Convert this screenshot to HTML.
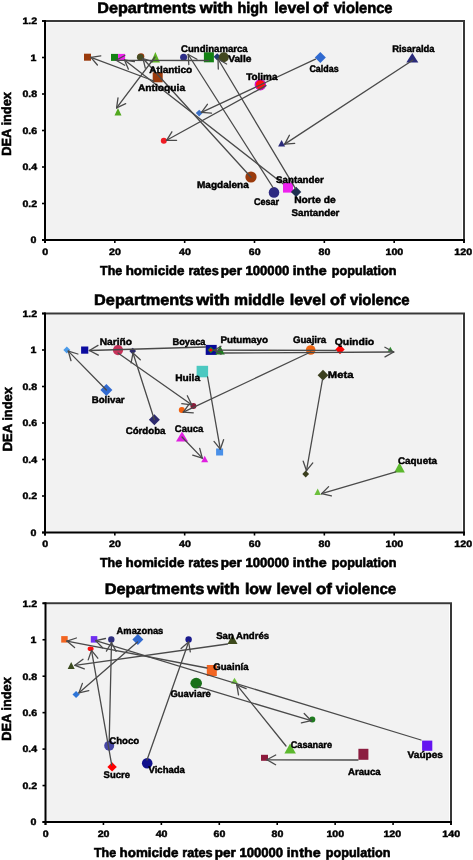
<!DOCTYPE html><html><head><meta charset="utf-8"><style>html,body{margin:0;padding:0;background:#fff;}svg{display:block;} text{filter:grayscale(1);}</style></head><body>
<svg width="473" height="860" viewBox="0 0 473 860" text-rendering="geometricPrecision" font-family='"Liberation Sans", sans-serif'>
<rect x="45" y="22.5" width="417" height="217.5" fill="#f2f2f2"/>
<line x1="42" y1="21" x2="465" y2="21" stroke="#383838" stroke-width="2"/>
<line x1="464" y1="21" x2="464" y2="243" stroke="#383838" stroke-width="2"/>
<line x1="42" y1="240" x2="465" y2="240" stroke="#000000" stroke-width="2"/>
<line x1="45" y1="20" x2="45" y2="243" stroke="#000000" stroke-width="2"/>
<line x1="42" y1="240.00" x2="45" y2="240.00" stroke="#000000" stroke-width="1.6"/>
<text x="36.3" y="243.3" font-size="9.3" font-weight="bold" text-anchor="end" fill="#000" stroke="#000" stroke-width="0.45" textLength="5.9" lengthAdjust="spacingAndGlyphs">0</text>
<line x1="42" y1="203.50" x2="45" y2="203.50" stroke="#000000" stroke-width="1.6"/>
<text x="37.2" y="206.8" font-size="9.3" font-weight="bold" text-anchor="end" fill="#000" stroke="#000" stroke-width="0.45" textLength="14.7" lengthAdjust="spacingAndGlyphs">0.2</text>
<line x1="42" y1="167.00" x2="45" y2="167.00" stroke="#000000" stroke-width="1.6"/>
<text x="37.2" y="170.3" font-size="9.3" font-weight="bold" text-anchor="end" fill="#000" stroke="#000" stroke-width="0.45" textLength="14.7" lengthAdjust="spacingAndGlyphs">0.4</text>
<line x1="42" y1="130.50" x2="45" y2="130.50" stroke="#000000" stroke-width="1.6"/>
<text x="37.2" y="133.8" font-size="9.3" font-weight="bold" text-anchor="end" fill="#000" stroke="#000" stroke-width="0.45" textLength="14.7" lengthAdjust="spacingAndGlyphs">0.6</text>
<line x1="42" y1="94.00" x2="45" y2="94.00" stroke="#000000" stroke-width="1.6"/>
<text x="37.2" y="97.3" font-size="9.3" font-weight="bold" text-anchor="end" fill="#000" stroke="#000" stroke-width="0.45" textLength="14.7" lengthAdjust="spacingAndGlyphs">0.8</text>
<line x1="42" y1="57.50" x2="45" y2="57.50" stroke="#000000" stroke-width="1.6"/>
<text x="36.3" y="60.8" font-size="9.3" font-weight="bold" text-anchor="end" fill="#000" stroke="#000" stroke-width="0.45" textLength="5.9" lengthAdjust="spacingAndGlyphs">1</text>
<line x1="42" y1="21.00" x2="45" y2="21.00" stroke="#000000" stroke-width="1.6"/>
<text x="37.2" y="24.3" font-size="9.3" font-weight="bold" text-anchor="end" fill="#000" stroke="#000" stroke-width="0.45" textLength="14.7" lengthAdjust="spacingAndGlyphs">1.2</text>
<line x1="45.00" y1="240" x2="45.00" y2="243" stroke="#000000" stroke-width="1.6"/>
<text x="45.2" y="255.2" font-size="9.3" font-weight="bold" text-anchor="middle" fill="#000" stroke="#000" stroke-width="0.45" textLength="5.9" lengthAdjust="spacingAndGlyphs">0</text>
<line x1="114.83" y1="240" x2="114.83" y2="243" stroke="#000000" stroke-width="1.6"/>
<text x="115.0" y="255.2" font-size="9.3" font-weight="bold" text-anchor="middle" fill="#000" stroke="#000" stroke-width="0.45" textLength="11.8" lengthAdjust="spacingAndGlyphs">20</text>
<line x1="184.67" y1="240" x2="184.67" y2="243" stroke="#000000" stroke-width="1.6"/>
<text x="184.9" y="255.2" font-size="9.3" font-weight="bold" text-anchor="middle" fill="#000" stroke="#000" stroke-width="0.45" textLength="11.8" lengthAdjust="spacingAndGlyphs">40</text>
<line x1="254.50" y1="240" x2="254.50" y2="243" stroke="#000000" stroke-width="1.6"/>
<text x="254.7" y="255.2" font-size="9.3" font-weight="bold" text-anchor="middle" fill="#000" stroke="#000" stroke-width="0.45" textLength="11.8" lengthAdjust="spacingAndGlyphs">60</text>
<line x1="324.33" y1="240" x2="324.33" y2="243" stroke="#000000" stroke-width="1.6"/>
<text x="324.5" y="255.2" font-size="9.3" font-weight="bold" text-anchor="middle" fill="#000" stroke="#000" stroke-width="0.45" textLength="11.8" lengthAdjust="spacingAndGlyphs">80</text>
<line x1="394.17" y1="240" x2="394.17" y2="243" stroke="#000000" stroke-width="1.6"/>
<text x="394.4" y="255.2" font-size="9.3" font-weight="bold" text-anchor="middle" fill="#000" stroke="#000" stroke-width="0.45" textLength="17.7" lengthAdjust="spacingAndGlyphs">100</text>
<line x1="464.00" y1="240" x2="464.00" y2="243" stroke="#000000" stroke-width="1.6"/>
<text x="463.2" y="255.2" font-size="9.3" font-weight="bold" text-anchor="middle" fill="#000" stroke="#000" stroke-width="0.45" textLength="17.7" lengthAdjust="spacingAndGlyphs">120</text>
<text x="97.3" y="12.5" font-size="15.3" font-weight="bold" text-anchor="start" fill="#000" stroke="#000" stroke-width="0.6" textLength="98.8" lengthAdjust="spacingAndGlyphs">Departments</text>
<text x="199.7" y="12.5" font-size="15.3" font-weight="bold" text-anchor="start" fill="#000" stroke="#000" stroke-width="0.6" textLength="33.3" lengthAdjust="spacingAndGlyphs">with</text>
<text x="237.6" y="12.5" font-size="15.3" font-weight="bold" text-anchor="start" fill="#000" stroke="#000" stroke-width="0.6" textLength="30.3" lengthAdjust="spacingAndGlyphs">high</text>
<text x="274.2" y="12.5" font-size="15.3" font-weight="bold" text-anchor="start" fill="#000" stroke="#000" stroke-width="0.6" textLength="35.4" lengthAdjust="spacingAndGlyphs">level</text>
<text x="312.9" y="12.5" font-size="15.3" font-weight="bold" text-anchor="start" fill="#000" stroke="#000" stroke-width="0.6" textLength="15.4" lengthAdjust="spacingAndGlyphs">of</text>
<text x="333.7" y="12.5" font-size="15.3" font-weight="bold" text-anchor="start" fill="#000" stroke="#000" stroke-width="0.6" textLength="58.8" lengthAdjust="spacingAndGlyphs">violence</text>
<text x="100.1" y="275.3" font-size="13.1" font-weight="bold" text-anchor="start" fill="#000" stroke="#000" stroke-width="0.6" textLength="22.1" lengthAdjust="spacingAndGlyphs">The</text>
<text x="125.7" y="275.3" font-size="13.1" font-weight="bold" text-anchor="start" fill="#000" stroke="#000" stroke-width="0.6" textLength="58.8" lengthAdjust="spacingAndGlyphs">homicide</text>
<text x="188.4" y="275.3" font-size="13.1" font-weight="bold" text-anchor="start" fill="#000" stroke="#000" stroke-width="0.6" textLength="30.3" lengthAdjust="spacingAndGlyphs">rates</text>
<text x="220.8" y="275.3" font-size="13.1" font-weight="bold" text-anchor="start" fill="#000" stroke="#000" stroke-width="0.6" textLength="21.2" lengthAdjust="spacingAndGlyphs">per</text>
<text x="245.5" y="275.3" font-size="13.1" font-weight="bold" text-anchor="start" fill="#000" stroke="#000" stroke-width="0.6" textLength="43.7" lengthAdjust="spacingAndGlyphs">100000</text>
<text x="292.8" y="275.3" font-size="13.1" font-weight="bold" text-anchor="start" fill="#000" stroke="#000" stroke-width="0.6" textLength="12.0" lengthAdjust="spacingAndGlyphs">in</text>
<text x="305.3" y="275.3" font-size="13.1" font-weight="bold" text-anchor="start" fill="#000" stroke="#000" stroke-width="0.6" textLength="21.4" lengthAdjust="spacingAndGlyphs">the</text>
<text x="331.8" y="275.3" font-size="13.1" font-weight="bold" text-anchor="start" fill="#000" stroke="#000" stroke-width="0.6" textLength="64.7" lengthAdjust="spacingAndGlyphs">population</text>
<text transform="translate(10.9,155) rotate(-90)" x="-0.86" font-size="13.2" font-weight="bold" stroke="#000" stroke-width="0.55" textLength="63.9" lengthAdjust="spacingAndGlyphs">DEA index</text>
<rect x="84.0" y="53.7" width="7.0" height="7.0" fill="#9a3a0c"/>
<rect x="111.0" y="53.9" width="7.0" height="7.0" fill="#148214"/>
<rect x="118.1" y="53.9" width="7.0" height="7.0" fill="#ee22ee"/>
<circle cx="141.0" cy="56.6" r="3.3" fill="#9a3a0c"/>
<circle cx="140.2" cy="57.2" r="3.3" fill="#474d24"/>
<polygon points="114.5,115.5 118.0,108.1 121.5,115.5" fill="#52a820"/>
<circle cx="183.6" cy="57.3" r="3.5" fill="#2e2e88"/>
<polygon points="213.6,56.8 217.2,53.2 220.8,56.8 217.2,60.4" fill="#1f3a6e"/>
<polygon points="195.8,113.1 199.2,109.7 202.6,113.1 199.2,116.5" fill="#3a70c8"/>
<circle cx="163.8" cy="140.8" r="3.0" fill="#ee1c24"/>
<polygon points="278.1,146.6 281.6,140.1 285.1,146.6" fill="#2a2a7a"/>
<polygon points="150.8,62.5 155.4,52.0 160.0,62.5" fill="#5db520"/>
<rect x="152.7" y="72.3" width="10.0" height="10.0" fill="#9a3a0c"/>
<rect x="203.9" y="52.3" width="10.0" height="10.0" fill="#148214"/>
<circle cx="223.8" cy="57.3" r="5.0" fill="#42471f"/>
<polygon points="314.8,57.4 320.3,51.9 325.8,57.4 320.3,62.9" fill="#316ad0"/>
<circle cx="260.3" cy="84.8" r="5.1" fill="#ff1010" stroke="#cc10cc" stroke-width="1.2"/>
<polygon points="406.3,62.6 412.3,53.0 418.3,62.6" fill="#2a2a7a"/>
<circle cx="251.0" cy="177.0" r="5.6" fill="#9a3a0c"/>
<circle cx="274.0" cy="192.4" r="5.3" fill="#2e2a80"/>
<rect x="283.0" y="182.6" width="10.0" height="10.0" fill="#ee22ee"/>
<polygon points="290.9,191.9 296.1,186.7 301.3,191.9 296.1,197.1" fill="#1f3050"/>
<g stroke="#4a4a4a" stroke-width="1.3" stroke-linecap="round">
<line x1="154.0" y1="81.0" x2="90.9" y2="57.4"/>
<line x1="90.9" y1="57.4" x2="100.8" y2="55.9"/>
<line x1="90.9" y1="57.4" x2="97.4" y2="65.0"/>
<line x1="283.0" y1="183.7" x2="124.5" y2="60.0"/>
<line x1="124.5" y1="60.0" x2="134.4" y2="61.6"/>
<line x1="124.5" y1="60.0" x2="128.4" y2="69.2"/>
<line x1="251.0" y1="177.2" x2="143.0" y2="58.5"/>
<line x1="143.0" y1="58.5" x2="152.5" y2="61.7"/>
<line x1="143.0" y1="58.5" x2="145.3" y2="68.2"/>
<line x1="273.0" y1="187.5" x2="188.2" y2="54.5"/>
<line x1="188.2" y1="54.5" x2="197.0" y2="59.3"/>
<line x1="188.2" y1="54.5" x2="188.8" y2="64.5"/>
<line x1="295.5" y1="188.6" x2="218.0" y2="59.0"/>
<line x1="218.0" y1="59.0" x2="226.6" y2="64.0"/>
<line x1="218.0" y1="59.0" x2="218.3" y2="69.0"/>
<line x1="208.7" y1="60.5" x2="116.0" y2="60.3"/>
<line x1="116.0" y1="60.3" x2="124.8" y2="55.5"/>
<line x1="116.0" y1="60.3" x2="124.7" y2="65.2"/>
<line x1="155.0" y1="57.0" x2="116.6" y2="107.8"/>
<line x1="116.6" y1="107.8" x2="118.0" y2="97.9"/>
<line x1="116.6" y1="107.8" x2="125.7" y2="103.7"/>
<line x1="315.5" y1="59.2" x2="201.5" y2="112.4"/>
<line x1="201.5" y1="112.4" x2="207.4" y2="104.3"/>
<line x1="201.5" y1="112.4" x2="211.5" y2="113.1"/>
<line x1="266.0" y1="85.6" x2="166.6" y2="140.3"/>
<line x1="166.6" y1="140.3" x2="171.9" y2="131.8"/>
<line x1="166.6" y1="140.3" x2="176.6" y2="140.3"/>
<line x1="413.0" y1="60.0" x2="284.7" y2="144.1"/>
<line x1="284.7" y1="144.1" x2="289.4" y2="135.3"/>
<line x1="284.7" y1="144.1" x2="294.7" y2="143.4"/>
</g>
<text x="181.1" y="51.5" font-size="9.6" font-weight="bold" text-anchor="start" fill="#000" stroke="#000" stroke-width="0.45" textLength="66.6" lengthAdjust="spacingAndGlyphs">Cundinamarca</text>
<text x="228.2" y="62.4" font-size="9.6" font-weight="bold" text-anchor="start" fill="#000" stroke="#000" stroke-width="0.45" textLength="23.3" lengthAdjust="spacingAndGlyphs">Valle</text>
<text x="149.3" y="72.6" font-size="9.6" font-weight="bold" text-anchor="start" fill="#000" stroke="#000" stroke-width="0.45" textLength="42.9" lengthAdjust="spacingAndGlyphs">Atlantico</text>
<text x="137.9" y="90.7" font-size="9.6" font-weight="bold" text-anchor="start" fill="#000" stroke="#000" stroke-width="0.45" textLength="47.2" lengthAdjust="spacingAndGlyphs">Antioquia</text>
<text x="246.2" y="80.2" font-size="9.6" font-weight="bold" text-anchor="start" fill="#000" stroke="#000" stroke-width="0.45" textLength="31.3" lengthAdjust="spacingAndGlyphs">Tolima</text>
<text x="309.4" y="72.1" font-size="9.6" font-weight="bold" text-anchor="start" fill="#000" stroke="#000" stroke-width="0.45" textLength="29.2" lengthAdjust="spacingAndGlyphs">Caldas</text>
<text x="392.2" y="51.9" font-size="9.6" font-weight="bold" text-anchor="start" fill="#000" stroke="#000" stroke-width="0.45" textLength="42.3" lengthAdjust="spacingAndGlyphs">Risaralda</text>
<text x="197.0" y="188.1" font-size="9.6" font-weight="bold" text-anchor="start" fill="#000" stroke="#000" stroke-width="0.45" textLength="51.8" lengthAdjust="spacingAndGlyphs">Magdalena</text>
<text x="276.0" y="182.5" font-size="9.6" font-weight="bold" text-anchor="start" fill="#000" stroke="#000" stroke-width="0.45" textLength="47.7" lengthAdjust="spacingAndGlyphs">Santander</text>
<text x="253.9" y="204.6" font-size="9.6" font-weight="bold" text-anchor="start" fill="#000" stroke="#000" stroke-width="0.45" textLength="25.1" lengthAdjust="spacingAndGlyphs">Cesar</text>
<text x="294.2" y="202.8" font-size="9.6" font-weight="bold" text-anchor="start" fill="#000" stroke="#000" stroke-width="0.45" textLength="41.6" lengthAdjust="spacingAndGlyphs">Norte de</text>
<text x="291.5" y="216.0" font-size="9.6" font-weight="bold" text-anchor="start" fill="#000" stroke="#000" stroke-width="0.45" textLength="47.9" lengthAdjust="spacingAndGlyphs">Santander</text>
<rect x="45" y="315.0" width="417" height="217.5" fill="#f2f2f2"/>
<line x1="42" y1="313.5" x2="465" y2="313.5" stroke="#383838" stroke-width="2"/>
<line x1="464" y1="313.5" x2="464" y2="535.5" stroke="#383838" stroke-width="2"/>
<line x1="42" y1="532.5" x2="465" y2="532.5" stroke="#000000" stroke-width="2"/>
<line x1="45" y1="312.5" x2="45" y2="535.5" stroke="#000000" stroke-width="2"/>
<line x1="42" y1="532.50" x2="45" y2="532.50" stroke="#000000" stroke-width="1.6"/>
<text x="36.3" y="535.8" font-size="9.3" font-weight="bold" text-anchor="end" fill="#000" stroke="#000" stroke-width="0.45" textLength="5.9" lengthAdjust="spacingAndGlyphs">0</text>
<line x1="42" y1="496.00" x2="45" y2="496.00" stroke="#000000" stroke-width="1.6"/>
<text x="37.2" y="499.3" font-size="9.3" font-weight="bold" text-anchor="end" fill="#000" stroke="#000" stroke-width="0.45" textLength="14.7" lengthAdjust="spacingAndGlyphs">0.2</text>
<line x1="42" y1="459.50" x2="45" y2="459.50" stroke="#000000" stroke-width="1.6"/>
<text x="37.2" y="462.8" font-size="9.3" font-weight="bold" text-anchor="end" fill="#000" stroke="#000" stroke-width="0.45" textLength="14.7" lengthAdjust="spacingAndGlyphs">0.4</text>
<line x1="42" y1="423.00" x2="45" y2="423.00" stroke="#000000" stroke-width="1.6"/>
<text x="37.2" y="426.3" font-size="9.3" font-weight="bold" text-anchor="end" fill="#000" stroke="#000" stroke-width="0.45" textLength="14.7" lengthAdjust="spacingAndGlyphs">0.6</text>
<line x1="42" y1="386.50" x2="45" y2="386.50" stroke="#000000" stroke-width="1.6"/>
<text x="37.2" y="389.8" font-size="9.3" font-weight="bold" text-anchor="end" fill="#000" stroke="#000" stroke-width="0.45" textLength="14.7" lengthAdjust="spacingAndGlyphs">0.8</text>
<line x1="42" y1="350.00" x2="45" y2="350.00" stroke="#000000" stroke-width="1.6"/>
<text x="36.3" y="353.3" font-size="9.3" font-weight="bold" text-anchor="end" fill="#000" stroke="#000" stroke-width="0.45" textLength="5.9" lengthAdjust="spacingAndGlyphs">1</text>
<line x1="42" y1="313.50" x2="45" y2="313.50" stroke="#000000" stroke-width="1.6"/>
<text x="37.2" y="316.8" font-size="9.3" font-weight="bold" text-anchor="end" fill="#000" stroke="#000" stroke-width="0.45" textLength="14.7" lengthAdjust="spacingAndGlyphs">1.2</text>
<line x1="45.00" y1="532.5" x2="45.00" y2="535.5" stroke="#000000" stroke-width="1.6"/>
<text x="45.2" y="547.3" font-size="9.3" font-weight="bold" text-anchor="middle" fill="#000" stroke="#000" stroke-width="0.45" textLength="5.9" lengthAdjust="spacingAndGlyphs">0</text>
<line x1="114.83" y1="532.5" x2="114.83" y2="535.5" stroke="#000000" stroke-width="1.6"/>
<text x="115.0" y="547.3" font-size="9.3" font-weight="bold" text-anchor="middle" fill="#000" stroke="#000" stroke-width="0.45" textLength="11.8" lengthAdjust="spacingAndGlyphs">20</text>
<line x1="184.67" y1="532.5" x2="184.67" y2="535.5" stroke="#000000" stroke-width="1.6"/>
<text x="184.9" y="547.3" font-size="9.3" font-weight="bold" text-anchor="middle" fill="#000" stroke="#000" stroke-width="0.45" textLength="11.8" lengthAdjust="spacingAndGlyphs">40</text>
<line x1="254.50" y1="532.5" x2="254.50" y2="535.5" stroke="#000000" stroke-width="1.6"/>
<text x="254.7" y="547.3" font-size="9.3" font-weight="bold" text-anchor="middle" fill="#000" stroke="#000" stroke-width="0.45" textLength="11.8" lengthAdjust="spacingAndGlyphs">60</text>
<line x1="324.33" y1="532.5" x2="324.33" y2="535.5" stroke="#000000" stroke-width="1.6"/>
<text x="324.5" y="547.3" font-size="9.3" font-weight="bold" text-anchor="middle" fill="#000" stroke="#000" stroke-width="0.45" textLength="11.8" lengthAdjust="spacingAndGlyphs">80</text>
<line x1="394.17" y1="532.5" x2="394.17" y2="535.5" stroke="#000000" stroke-width="1.6"/>
<text x="394.4" y="547.3" font-size="9.3" font-weight="bold" text-anchor="middle" fill="#000" stroke="#000" stroke-width="0.45" textLength="17.7" lengthAdjust="spacingAndGlyphs">100</text>
<line x1="464.00" y1="532.5" x2="464.00" y2="535.5" stroke="#000000" stroke-width="1.6"/>
<text x="463.2" y="547.3" font-size="9.3" font-weight="bold" text-anchor="middle" fill="#000" stroke="#000" stroke-width="0.45" textLength="17.7" lengthAdjust="spacingAndGlyphs">120</text>
<text x="94.1" y="305.1" font-size="15.3" font-weight="bold" text-anchor="start" fill="#000" stroke="#000" stroke-width="0.6" textLength="99.6" lengthAdjust="spacingAndGlyphs">Departments</text>
<text x="196.2" y="305.1" font-size="15.3" font-weight="bold" text-anchor="start" fill="#000" stroke="#000" stroke-width="0.6" textLength="33.7" lengthAdjust="spacingAndGlyphs">with</text>
<text x="233.9" y="305.1" font-size="15.3" font-weight="bold" text-anchor="start" fill="#000" stroke="#000" stroke-width="0.6" textLength="50.7" lengthAdjust="spacingAndGlyphs">middle</text>
<text x="289.8" y="305.1" font-size="15.3" font-weight="bold" text-anchor="start" fill="#000" stroke="#000" stroke-width="0.6" textLength="36.1" lengthAdjust="spacingAndGlyphs">level</text>
<text x="330.0" y="305.1" font-size="15.3" font-weight="bold" text-anchor="start" fill="#000" stroke="#000" stroke-width="0.6" textLength="15.4" lengthAdjust="spacingAndGlyphs">of</text>
<text x="349.9" y="305.1" font-size="15.3" font-weight="bold" text-anchor="start" fill="#000" stroke="#000" stroke-width="0.6" textLength="59.7" lengthAdjust="spacingAndGlyphs">violence</text>
<text x="100.0" y="566.9" font-size="13.1" font-weight="bold" text-anchor="start" fill="#000" stroke="#000" stroke-width="0.6" textLength="22.1" lengthAdjust="spacingAndGlyphs">The</text>
<text x="125.6" y="566.9" font-size="13.1" font-weight="bold" text-anchor="start" fill="#000" stroke="#000" stroke-width="0.6" textLength="58.8" lengthAdjust="spacingAndGlyphs">homicide</text>
<text x="188.3" y="566.9" font-size="13.1" font-weight="bold" text-anchor="start" fill="#000" stroke="#000" stroke-width="0.6" textLength="30.3" lengthAdjust="spacingAndGlyphs">rates</text>
<text x="220.7" y="566.9" font-size="13.1" font-weight="bold" text-anchor="start" fill="#000" stroke="#000" stroke-width="0.6" textLength="21.2" lengthAdjust="spacingAndGlyphs">per</text>
<text x="245.4" y="566.9" font-size="13.1" font-weight="bold" text-anchor="start" fill="#000" stroke="#000" stroke-width="0.6" textLength="43.7" lengthAdjust="spacingAndGlyphs">100000</text>
<text x="292.7" y="566.9" font-size="13.1" font-weight="bold" text-anchor="start" fill="#000" stroke="#000" stroke-width="0.6" textLength="12.0" lengthAdjust="spacingAndGlyphs">in</text>
<text x="305.2" y="566.9" font-size="13.1" font-weight="bold" text-anchor="start" fill="#000" stroke="#000" stroke-width="0.6" textLength="21.4" lengthAdjust="spacingAndGlyphs">the</text>
<text x="331.7" y="566.9" font-size="13.1" font-weight="bold" text-anchor="start" fill="#000" stroke="#000" stroke-width="0.6" textLength="64.7" lengthAdjust="spacingAndGlyphs">population</text>
<text transform="translate(12.0,450.4) rotate(-90)" x="-0.86" font-size="13.2" font-weight="bold" stroke="#000" stroke-width="0.55" textLength="64.2" lengthAdjust="spacingAndGlyphs">DEA index</text>
<polygon points="63.3,350.1 66.8,346.6 70.3,350.1 66.8,353.6" fill="#4a9ae8"/>
<rect x="81.1" y="346.5" width="7.2" height="7.2" fill="#0c0ca0"/>
<polygon points="129.3,351.1 132.7,347.7 136.1,351.1 132.7,354.5" fill="#2c2a6a"/>
<circle cx="193.4" cy="405.9" r="3.0" fill="#8b1a3a"/>
<circle cx="181.8" cy="410.1" r="3.0" fill="#f06010"/>
<rect x="216.1" y="448.5" width="7.0" height="7.0" fill="#4a90e8"/>
<polygon points="201.2,462.2 204.7,455.8 208.2,462.2" fill="#e020e0"/>
<polygon points="302.3,474.0 305.7,470.6 309.1,474.0 305.7,477.4" fill="#3a3e1e"/>
<polygon points="314.4,495.1 317.7,488.6 320.9,495.1" fill="#6cbf3c"/>
<polygon points="387.6,351.8 390.3,346.8 393.1,351.8" fill="#2d8b2d"/>
<polygon points="100.4,390.1 106.4,384.1 112.4,390.1 106.4,396.1" fill="#316ad0"/>
<circle cx="118.0" cy="350.1" r="5.1" fill="#c8325a"/>
<rect x="205.7" y="344.9" width="11.0" height="10.0" fill="#0a0a96"/>
<polygon points="207.6,350.0 210.8,346.8 214.0,350.0 210.8,353.2" fill="#1e8b1e"/>
<circle cx="210.8" cy="350.0" r="1.6" fill="#ff0000"/>
<polygon points="215.2,354.4 220.0,345.4 224.8,354.4" fill="#1e7b1e"/>
<rect x="196.6" y="365.8" width="11.5" height="11.5" fill="#4bc8c0"/>
<polygon points="148.9,419.7 154.4,414.2 159.9,419.7 154.4,425.2" fill="#2d2a6e"/>
<polygon points="176.0,441.5 182.0,431.5 188.0,441.5" fill="#e020e0"/>
<circle cx="310.7" cy="350.0" r="4.8" fill="#f0640f"/>
<polygon points="335.3,349.5 340.0,344.8 344.7,349.5 340.0,354.2" fill="#ff0000"/>
<polygon points="317.6,375.2 323.0,369.8 328.4,375.2 323.0,380.6" fill="#3b3f1f"/>
<polygon points="394.2,472.4 399.5,462.4 404.8,472.4" fill="#5cb82e"/>
<g stroke="#4a4a4a" stroke-width="1.3" stroke-linecap="round">
<line x1="106.4" y1="390.0" x2="68.3" y2="351.1"/>
<line x1="68.3" y1="351.1" x2="77.9" y2="354.0"/>
<line x1="68.3" y1="351.1" x2="71.0" y2="360.7"/>
<line x1="205.5" y1="347.0" x2="89.4" y2="350.5"/>
<line x1="89.4" y1="350.5" x2="98.0" y2="345.4"/>
<line x1="89.4" y1="350.5" x2="98.3" y2="355.1"/>
<line x1="118.0" y1="353.0" x2="191.7" y2="404.8"/>
<line x1="191.7" y1="404.8" x2="181.8" y2="403.7"/>
<line x1="191.7" y1="404.8" x2="187.3" y2="395.8"/>
<line x1="154.4" y1="419.7" x2="133.0" y2="353.0"/>
<line x1="133.0" y1="353.0" x2="140.3" y2="359.8"/>
<line x1="133.0" y1="353.0" x2="131.1" y2="362.8"/>
<line x1="336.0" y1="350.4" x2="214.0" y2="350.2"/>
<line x1="214.0" y1="350.2" x2="221.0" y2="346.3"/>
<line x1="214.0" y1="350.2" x2="221.0" y2="354.1"/>
<line x1="224.0" y1="353.0" x2="393.7" y2="352.0"/>
<line x1="393.7" y1="352.0" x2="385.0" y2="356.9"/>
<line x1="393.7" y1="352.0" x2="384.9" y2="347.2"/>
<line x1="310.7" y1="352.0" x2="183.3" y2="412.2"/>
<line x1="183.3" y1="412.2" x2="189.1" y2="404.1"/>
<line x1="183.3" y1="412.2" x2="193.3" y2="412.8"/>
<line x1="207.6" y1="377.0" x2="220.3" y2="449.2"/>
<line x1="220.3" y1="449.2" x2="214.0" y2="441.4"/>
<line x1="220.3" y1="449.2" x2="223.6" y2="439.7"/>
<line x1="182.0" y1="437.0" x2="202.3" y2="458.1"/>
<line x1="202.3" y1="458.1" x2="192.7" y2="455.2"/>
<line x1="202.3" y1="458.1" x2="199.7" y2="448.4"/>
<line x1="322.5" y1="379.5" x2="306.5" y2="470.7"/>
<line x1="306.5" y1="470.7" x2="303.2" y2="461.2"/>
<line x1="306.5" y1="470.7" x2="312.8" y2="462.9"/>
<line x1="395.8" y1="471.8" x2="321.6" y2="493.7"/>
<line x1="321.6" y1="493.7" x2="328.6" y2="486.6"/>
<line x1="321.6" y1="493.7" x2="331.4" y2="495.9"/>
</g>
<text x="99.7" y="344.8" font-size="9.6" font-weight="bold" text-anchor="start" fill="#000" stroke="#000" stroke-width="0.45" textLength="32.4" lengthAdjust="spacingAndGlyphs">Nariño</text>
<text x="172.5" y="344.8" font-size="9.6" font-weight="bold" text-anchor="start" fill="#000" stroke="#000" stroke-width="0.45" textLength="33.0" lengthAdjust="spacingAndGlyphs">Boyaca</text>
<text x="220.4" y="343.2" font-size="9.6" font-weight="bold" text-anchor="start" fill="#000" stroke="#000" stroke-width="0.45" textLength="47.6" lengthAdjust="spacingAndGlyphs">Putumayo</text>
<text x="292.9" y="343.0" font-size="9.6" font-weight="bold" text-anchor="start" fill="#000" stroke="#000" stroke-width="0.45" textLength="33.3" lengthAdjust="spacingAndGlyphs">Guajira</text>
<text x="334.7" y="344.5" font-size="9.6" font-weight="bold" text-anchor="start" fill="#000" stroke="#000" stroke-width="0.45" textLength="39.5" lengthAdjust="spacingAndGlyphs">Quindio</text>
<text x="175.2" y="381.4" font-size="9.6" font-weight="bold" text-anchor="start" fill="#000" stroke="#000" stroke-width="0.45" textLength="24.9" lengthAdjust="spacingAndGlyphs">Huila</text>
<text x="327.8" y="378.3" font-size="9.6" font-weight="bold" text-anchor="start" fill="#000" stroke="#000" stroke-width="0.45" textLength="25.6" lengthAdjust="spacingAndGlyphs">Meta</text>
<text x="91.7" y="402.8" font-size="9.6" font-weight="bold" text-anchor="start" fill="#000" stroke="#000" stroke-width="0.45" textLength="32.9" lengthAdjust="spacingAndGlyphs">Bolivar</text>
<text x="125.7" y="434.0" font-size="9.6" font-weight="bold" text-anchor="start" fill="#000" stroke="#000" stroke-width="0.45" textLength="39.8" lengthAdjust="spacingAndGlyphs">Córdoba</text>
<text x="174.8" y="431.9" font-size="9.6" font-weight="bold" text-anchor="start" fill="#000" stroke="#000" stroke-width="0.45" textLength="28.4" lengthAdjust="spacingAndGlyphs">Cauca</text>
<text x="398.0" y="463.8" font-size="9.6" font-weight="bold" text-anchor="start" fill="#000" stroke="#000" stroke-width="0.45" textLength="38.9" lengthAdjust="spacingAndGlyphs">Caqueta</text>
<rect x="45.5" y="604.8" width="403.5" height="217.20000000000005" fill="#f2f2f2"/>
<line x1="42.5" y1="603.3" x2="452" y2="603.3" stroke="#383838" stroke-width="2"/>
<line x1="451" y1="603.3" x2="451" y2="825" stroke="#383838" stroke-width="2"/>
<line x1="42.5" y1="822" x2="452" y2="822" stroke="#000000" stroke-width="2"/>
<line x1="45.5" y1="602.3" x2="45.5" y2="825" stroke="#000000" stroke-width="2"/>
<line x1="42.5" y1="822.00" x2="45.5" y2="822.00" stroke="#000000" stroke-width="1.6"/>
<text x="36.3" y="825.3" font-size="9.3" font-weight="bold" text-anchor="end" fill="#000" stroke="#000" stroke-width="0.45" textLength="5.9" lengthAdjust="spacingAndGlyphs">0</text>
<line x1="42.5" y1="785.55" x2="45.5" y2="785.55" stroke="#000000" stroke-width="1.6"/>
<text x="37.2" y="788.8" font-size="9.3" font-weight="bold" text-anchor="end" fill="#000" stroke="#000" stroke-width="0.45" textLength="14.7" lengthAdjust="spacingAndGlyphs">0.2</text>
<line x1="42.5" y1="749.10" x2="45.5" y2="749.10" stroke="#000000" stroke-width="1.6"/>
<text x="37.2" y="752.4" font-size="9.3" font-weight="bold" text-anchor="end" fill="#000" stroke="#000" stroke-width="0.45" textLength="14.7" lengthAdjust="spacingAndGlyphs">0.4</text>
<line x1="42.5" y1="712.65" x2="45.5" y2="712.65" stroke="#000000" stroke-width="1.6"/>
<text x="37.2" y="715.9" font-size="9.3" font-weight="bold" text-anchor="end" fill="#000" stroke="#000" stroke-width="0.45" textLength="14.7" lengthAdjust="spacingAndGlyphs">0.6</text>
<line x1="42.5" y1="676.20" x2="45.5" y2="676.20" stroke="#000000" stroke-width="1.6"/>
<text x="37.2" y="679.5" font-size="9.3" font-weight="bold" text-anchor="end" fill="#000" stroke="#000" stroke-width="0.45" textLength="14.7" lengthAdjust="spacingAndGlyphs">0.8</text>
<line x1="42.5" y1="639.75" x2="45.5" y2="639.75" stroke="#000000" stroke-width="1.6"/>
<text x="36.3" y="643.0" font-size="9.3" font-weight="bold" text-anchor="end" fill="#000" stroke="#000" stroke-width="0.45" textLength="5.9" lengthAdjust="spacingAndGlyphs">1</text>
<line x1="42.5" y1="603.30" x2="45.5" y2="603.30" stroke="#000000" stroke-width="1.6"/>
<text x="37.2" y="606.6" font-size="9.3" font-weight="bold" text-anchor="end" fill="#000" stroke="#000" stroke-width="0.45" textLength="14.7" lengthAdjust="spacingAndGlyphs">1.2</text>
<line x1="45.50" y1="822" x2="45.50" y2="825" stroke="#000000" stroke-width="1.6"/>
<text x="45.7" y="837.0" font-size="9.3" font-weight="bold" text-anchor="middle" fill="#000" stroke="#000" stroke-width="0.45" textLength="5.9" lengthAdjust="spacingAndGlyphs">0</text>
<line x1="103.43" y1="822" x2="103.43" y2="825" stroke="#000000" stroke-width="1.6"/>
<text x="103.6" y="837.0" font-size="9.3" font-weight="bold" text-anchor="middle" fill="#000" stroke="#000" stroke-width="0.45" textLength="11.8" lengthAdjust="spacingAndGlyphs">20</text>
<line x1="161.36" y1="822" x2="161.36" y2="825" stroke="#000000" stroke-width="1.6"/>
<text x="161.6" y="837.0" font-size="9.3" font-weight="bold" text-anchor="middle" fill="#000" stroke="#000" stroke-width="0.45" textLength="11.8" lengthAdjust="spacingAndGlyphs">40</text>
<line x1="219.29" y1="822" x2="219.29" y2="825" stroke="#000000" stroke-width="1.6"/>
<text x="219.5" y="837.0" font-size="9.3" font-weight="bold" text-anchor="middle" fill="#000" stroke="#000" stroke-width="0.45" textLength="11.8" lengthAdjust="spacingAndGlyphs">60</text>
<line x1="277.21" y1="822" x2="277.21" y2="825" stroke="#000000" stroke-width="1.6"/>
<text x="277.4" y="837.0" font-size="9.3" font-weight="bold" text-anchor="middle" fill="#000" stroke="#000" stroke-width="0.45" textLength="11.8" lengthAdjust="spacingAndGlyphs">80</text>
<line x1="335.14" y1="822" x2="335.14" y2="825" stroke="#000000" stroke-width="1.6"/>
<text x="335.3" y="837.0" font-size="9.3" font-weight="bold" text-anchor="middle" fill="#000" stroke="#000" stroke-width="0.45" textLength="17.7" lengthAdjust="spacingAndGlyphs">100</text>
<line x1="393.07" y1="822" x2="393.07" y2="825" stroke="#000000" stroke-width="1.6"/>
<text x="392.3" y="837.0" font-size="9.3" font-weight="bold" text-anchor="middle" fill="#000" stroke="#000" stroke-width="0.45" textLength="17.7" lengthAdjust="spacingAndGlyphs">120</text>
<line x1="451.00" y1="822" x2="451.00" y2="825" stroke="#000000" stroke-width="1.6"/>
<text x="451.2" y="837.0" font-size="9.3" font-weight="bold" text-anchor="middle" fill="#000" stroke="#000" stroke-width="0.45" textLength="17.7" lengthAdjust="spacingAndGlyphs">140</text>
<text x="104.8" y="593.5" font-size="15.3" font-weight="bold" text-anchor="start" fill="#000" stroke="#000" stroke-width="0.6" textLength="99.5" lengthAdjust="spacingAndGlyphs">Departments</text>
<text x="207.0" y="593.5" font-size="15.3" font-weight="bold" text-anchor="start" fill="#000" stroke="#000" stroke-width="0.6" textLength="32.8" lengthAdjust="spacingAndGlyphs">with</text>
<text x="244.9" y="593.5" font-size="15.3" font-weight="bold" text-anchor="start" fill="#000" stroke="#000" stroke-width="0.6" textLength="26.5" lengthAdjust="spacingAndGlyphs">low</text>
<text x="276.5" y="593.5" font-size="15.3" font-weight="bold" text-anchor="start" fill="#000" stroke="#000" stroke-width="0.6" textLength="35.5" lengthAdjust="spacingAndGlyphs">level</text>
<text x="316.1" y="593.5" font-size="15.3" font-weight="bold" text-anchor="start" fill="#000" stroke="#000" stroke-width="0.6" textLength="15.9" lengthAdjust="spacingAndGlyphs">of</text>
<text x="335.8" y="593.5" font-size="15.3" font-weight="bold" text-anchor="start" fill="#000" stroke="#000" stroke-width="0.6" textLength="60.4" lengthAdjust="spacingAndGlyphs">violence</text>
<text x="94.0" y="857.4" font-size="13.1" font-weight="bold" text-anchor="start" fill="#000" stroke="#000" stroke-width="0.6" textLength="22.1" lengthAdjust="spacingAndGlyphs">The</text>
<text x="119.6" y="857.4" font-size="13.1" font-weight="bold" text-anchor="start" fill="#000" stroke="#000" stroke-width="0.6" textLength="58.8" lengthAdjust="spacingAndGlyphs">homicide</text>
<text x="182.3" y="857.4" font-size="13.1" font-weight="bold" text-anchor="start" fill="#000" stroke="#000" stroke-width="0.6" textLength="30.3" lengthAdjust="spacingAndGlyphs">rates</text>
<text x="214.7" y="857.4" font-size="13.1" font-weight="bold" text-anchor="start" fill="#000" stroke="#000" stroke-width="0.6" textLength="21.2" lengthAdjust="spacingAndGlyphs">per</text>
<text x="239.4" y="857.4" font-size="13.1" font-weight="bold" text-anchor="start" fill="#000" stroke="#000" stroke-width="0.6" textLength="43.7" lengthAdjust="spacingAndGlyphs">100000</text>
<text x="286.7" y="857.4" font-size="13.1" font-weight="bold" text-anchor="start" fill="#000" stroke="#000" stroke-width="0.6" textLength="12.0" lengthAdjust="spacingAndGlyphs">in</text>
<text x="299.2" y="857.4" font-size="13.1" font-weight="bold" text-anchor="start" fill="#000" stroke="#000" stroke-width="0.6" textLength="21.4" lengthAdjust="spacingAndGlyphs">the</text>
<text x="325.7" y="857.4" font-size="13.1" font-weight="bold" text-anchor="start" fill="#000" stroke="#000" stroke-width="0.6" textLength="64.7" lengthAdjust="spacingAndGlyphs">population</text>
<text transform="translate(10.9,740) rotate(-90)" x="-0.85" font-size="13.2" font-weight="bold" stroke="#000" stroke-width="0.55" textLength="63.7" lengthAdjust="spacingAndGlyphs">DEA index</text>
<rect x="61.2" y="636.1" width="6.5" height="6.5" fill="#f26522"/>
<rect x="90.8" y="636.1" width="6.5" height="6.5" fill="#7030f0"/>
<circle cx="111.3" cy="639.4" r="3.2" fill="#2e2e7e"/>
<ellipse cx="90.6" cy="648.7" rx="3.0" ry="2.3" fill="#ff1010"/>
<polygon points="67.7,669.1 71.2,662.1 74.7,669.1" fill="#3a4a1e"/>
<polygon points="72.5,694.5 76.1,690.9 79.7,694.5 76.1,698.1" fill="#2e75d8"/>
<circle cx="188.6" cy="639.5" r="3.2" fill="#1a1a8c"/>
<polygon points="231.0,683.8 234.5,677.8 238.0,683.8" fill="#70c040"/>
<circle cx="312.3" cy="719.6" r="3.0" fill="#1f7a1f"/>
<rect x="261.0" y="754.8" width="7.0" height="6.0" fill="#8c1a3c"/>
<polygon points="132.4,639.5 137.9,634.0 143.4,639.5 137.9,645.0" fill="#316ad0"/>
<polygon points="227.5,644.0 232.5,634.4 237.5,644.0" fill="#3d4a1c"/>
<rect x="206.8" y="665.0" width="10.0" height="11.0" fill="#f26522"/>
<ellipse cx="196.2" cy="683.2" rx="5.8" ry="5.4" fill="#1a701a"/>
<circle cx="109.2" cy="745.8" r="5.0" fill="#4545a5"/>
<polygon points="107.4,766.9 112.1,762.2 116.8,766.9 112.1,771.6" fill="#ff0000"/>
<circle cx="147.2" cy="763.3" r="5.3" fill="#10108c"/>
<polygon points="284.4,753.6 290.1,743.6 295.9,753.6" fill="#5cb82e"/>
<rect x="358.4" y="748.8" width="10.0" height="11.0" fill="#8c1d40"/>
<rect x="422.1" y="740.6" width="10.2" height="10.2" fill="#6414f0"/>
<g stroke="#4a4a4a" stroke-width="1.3" stroke-linecap="round">
<line x1="207.0" y1="668.0" x2="66.9" y2="641.1"/>
<line x1="66.9" y1="641.1" x2="76.4" y2="638.0"/>
<line x1="66.9" y1="641.1" x2="74.6" y2="647.5"/>
<line x1="421.0" y1="740.0" x2="95.7" y2="640.6"/>
<line x1="95.7" y1="640.6" x2="105.5" y2="638.5"/>
<line x1="95.7" y1="640.6" x2="102.6" y2="647.8"/>
<line x1="109.2" y1="741.0" x2="111.5" y2="642.5"/>
<line x1="111.5" y1="642.5" x2="116.1" y2="651.4"/>
<line x1="111.5" y1="642.5" x2="106.4" y2="651.1"/>
<line x1="111.7" y1="765.0" x2="91.5" y2="650.4"/>
<line x1="91.5" y1="650.4" x2="97.8" y2="658.2"/>
<line x1="91.5" y1="650.4" x2="88.2" y2="659.9"/>
<line x1="227.5" y1="644.0" x2="75.0" y2="665.3"/>
<line x1="75.0" y1="665.3" x2="83.0" y2="659.3"/>
<line x1="75.0" y1="665.3" x2="84.3" y2="668.9"/>
<line x1="137.5" y1="642.0" x2="79.0" y2="692.8"/>
<line x1="79.0" y1="692.8" x2="82.4" y2="683.4"/>
<line x1="79.0" y1="692.8" x2="88.8" y2="690.7"/>
<line x1="147.0" y1="760.0" x2="188.6" y2="642.0"/>
<line x1="188.6" y1="642.0" x2="190.3" y2="651.9"/>
<line x1="188.6" y1="642.0" x2="181.1" y2="648.6"/>
<line x1="198.0" y1="686.6" x2="311.2" y2="720.7"/>
<line x1="311.2" y1="720.7" x2="301.4" y2="722.8"/>
<line x1="311.2" y1="720.7" x2="304.2" y2="713.5"/>
<line x1="286.0" y1="746.0" x2="236.8" y2="684.9"/>
<line x1="236.8" y1="684.9" x2="246.1" y2="688.7"/>
<line x1="236.8" y1="684.9" x2="238.5" y2="694.8"/>
<line x1="358.0" y1="760.0" x2="266.9" y2="759.8"/>
<line x1="266.9" y1="759.8" x2="275.7" y2="755.0"/>
<line x1="266.9" y1="759.8" x2="275.6" y2="764.7"/>
</g>
<text x="116.6" y="633.7" font-size="9.6" font-weight="bold" text-anchor="start" fill="#000" stroke="#000" stroke-width="0.45" textLength="46.7" lengthAdjust="spacingAndGlyphs">Amazonas</text>
<text x="216.2" y="639.0" font-size="9.6" font-weight="bold" text-anchor="start" fill="#000" stroke="#000" stroke-width="0.45" textLength="52.9" lengthAdjust="spacingAndGlyphs">San Andrés</text>
<text x="213.3" y="669.7" font-size="9.6" font-weight="bold" text-anchor="start" fill="#000" stroke="#000" stroke-width="0.45" textLength="35.2" lengthAdjust="spacingAndGlyphs">Guainía</text>
<text x="170.4" y="696.7" font-size="9.6" font-weight="bold" text-anchor="start" fill="#000" stroke="#000" stroke-width="0.45" textLength="40.5" lengthAdjust="spacingAndGlyphs">Guaviare</text>
<text x="109.2" y="743.9" font-size="9.6" font-weight="bold" text-anchor="start" fill="#000" stroke="#000" stroke-width="0.45" textLength="30.0" lengthAdjust="spacingAndGlyphs">Choco</text>
<text x="103.6" y="777.5" font-size="9.6" font-weight="bold" text-anchor="start" fill="#000" stroke="#000" stroke-width="0.45" textLength="26.4" lengthAdjust="spacingAndGlyphs">Sucre</text>
<text x="148.5" y="773.3" font-size="9.6" font-weight="bold" text-anchor="start" fill="#000" stroke="#000" stroke-width="0.45" textLength="36.4" lengthAdjust="spacingAndGlyphs">Vichada</text>
<text x="290.7" y="748.1" font-size="9.6" font-weight="bold" text-anchor="start" fill="#000" stroke="#000" stroke-width="0.45" textLength="41.3" lengthAdjust="spacingAndGlyphs">Casanare</text>
<text x="348.1" y="775.2" font-size="9.6" font-weight="bold" text-anchor="start" fill="#000" stroke="#000" stroke-width="0.45" textLength="32.6" lengthAdjust="spacingAndGlyphs">Arauca</text>
<text x="407.6" y="757.7" font-size="9.6" font-weight="bold" text-anchor="start" fill="#000" stroke="#000" stroke-width="0.45" textLength="35.4" lengthAdjust="spacingAndGlyphs">Vaúpes</text>
</svg></body></html>
